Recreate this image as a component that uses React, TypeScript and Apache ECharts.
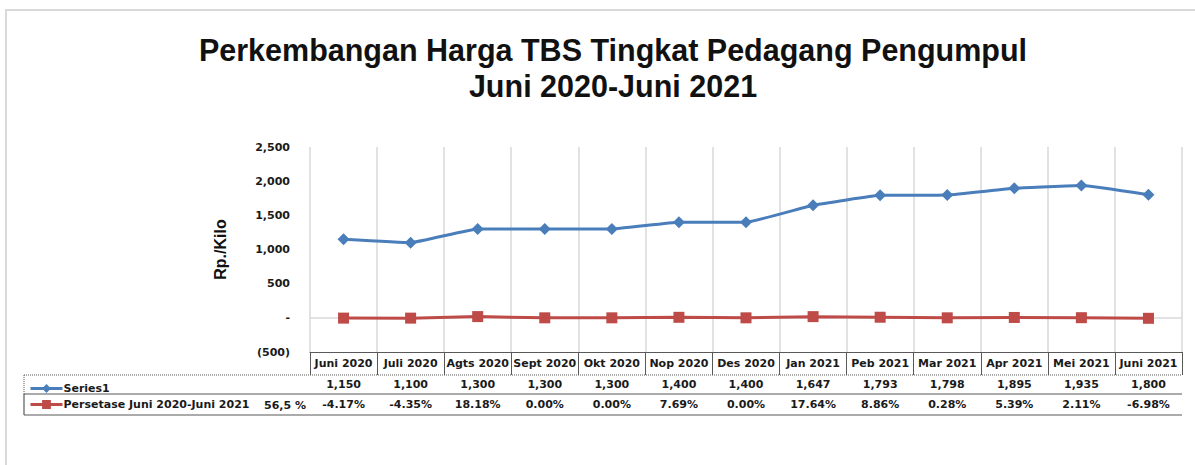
import React, { useEffect, useRef } from "react";
import * as echarts from "echarts";

const categories = [
  "Juni 2020", "Juli 2020", "Agts 2020", "Sept 2020", "Okt 2020", "Nop 2020", "Des 2020",
  "Jan 2021", "Peb 2021", "Mar 2021", "Apr 2021", "Mei 2021", "Juni 2021",
];
const series1 = [1150, 1100, 1300, 1300, 1300, 1400, 1400, 1647, 1793, 1798, 1895, 1935, 1800];
const persentase = [-4.17, -4.35, 18.18, 0.0, 0.0, 7.69, 0.0, 17.64, 8.86, 0.28, 5.39, 2.11, -6.98];
const series1Name = "Series1";
const series2Name = "Persetase Juni 2020-Juni 2021";
const totalPct = "56,5 %";
const titleLines = ["Perkembangan Harga TBS Tingkat Pedagang Pengumpul", "Juni 2020-Juni 2021"];
const yName = "Rp./Kilo";

const fmt = (v: number) => v.toLocaleString("en-US");
const tableFont = "DejaVu Sans";

export default function App() {
  const ref = useRef<HTMLDivElement>(null);
  useEffect(() => {
    document.body.style.margin = "0";
    const chart = echarts.init(ref.current!, undefined, { renderer: "svg" });
    const border = "#595959";
    const labelStyle = { fontFamily: tableFont, fontWeight: "bold", fontSize: 11, color: "#1a1a1a" };
    const titleStyle = { fontFamily: "Liberation Sans", fontWeight: "bold", fontSize: 30.5, lineHeight: 30, color: "#111" };
    chart.setOption({
      animation: false,
      backgroundColor: "#fff",
      title: titleLines.map((t, i) => ({
        text: t,
        left: 613,
        top: 35 + i * 36,
        textAlign: "center",
        padding: 0,
        textStyle: titleStyle,
      })),
      legend: {
        orient: "vertical",
        left: 24,
        top: 378,
        itemWidth: 32,
        itemHeight: 11,
        itemGap: 5,
        lineStyle: { width: 3 },
        textStyle: { ...labelStyle, padding: [0, 0, 0, -4] },
        data: [series1Name, series2Name],
      },
      grid: { left: 310, right: 13, top: 147, bottom: 113, containLabel: false },
      xAxis: [
        {
          type: "category",
          data: categories,
          position: "bottom",
          boundaryGap: true,
          axisLine: { onZero: false, lineStyle: { color: border, width: 1 } },
          axisTick: { show: true, length: 23, interval: 0, lineStyle: { color: border } },
          axisLabel: { ...labelStyle, margin: 6, interval: 0 },
          splitLine: { show: true, interval: 0, lineStyle: { color: "#d9d9d9", width: 1.5 } },
        },
        {
          type: "category",
          data: categories,
          position: "bottom",
          offset: 22,
          axisLine: { show: false },
          axisTick: { show: false },
          splitLine: { show: false },
          axisLabel: { ...labelStyle, margin: 5, interval: 0, formatter: (_v: string, i: number) => fmt(series1[i]) },
        },
        {
          type: "category",
          data: categories,
          position: "bottom",
          offset: 42,
          axisLine: { show: false },
          axisTick: { show: false },
          splitLine: { show: false },
          axisLabel: {
            ...labelStyle,
            margin: 5,
            interval: 0,
            formatter: (_v: string, i: number) => persentase[i].toFixed(2) + "%",
          },
        },
      ],
      yAxis: {
        type: "value",
        min: -500,
        max: 2500,
        interval: 500,
        name: yName,
        nameLocation: "middle",
        nameGap: 82,
        nameTextStyle: { fontFamily: "Liberation Sans", fontWeight: "bold", fontSize: 16, color: "#111" },
        axisLine: { show: false },
        axisTick: { show: false },
        splitLine: { show: false },
        axisLabel: {
          ...labelStyle,
          margin: 20,
          formatter: (v: number) => (v === 0 ? "-" : v < 0 ? `(${fmt(-v)})` : fmt(v)),
        },
      },
      series: [
        {
          name: series1Name,
          type: "line",
          data: series1,
          smooth: 0.1,
          symbol: "diamond",
          symbolSize: 12,
          itemStyle: { color: "#4a7ebb" },
          lineStyle: { color: "#4a7ebb", width: 3 },
        },
        {
          name: series2Name,
          type: "line",
          data: persentase,
          symbol: "rect",
          symbolSize: 11,
          itemStyle: { color: "#be4b48" },
          lineStyle: { color: "#be4b48", width: 3 },
          z: 3,
          markLine: {
            silent: true,
            symbol: "none",
            label: { show: false },
            lineStyle: { color: "#d9d9d9", width: 1.5, type: "solid" },
            data: [{ yAxis: 0 }],
            z: 1,
          },
        },
      ],
      graphic: [
        { type: "rect", shape: { x: 6, y: 10, width: 1300, height: 600 }, style: { fill: "none", stroke: "#d9d9d9", lineWidth: 2 }, silent: true },
        { type: "line", shape: { x1: 24, y1: 375, x2: 1182, y2: 375 }, style: { stroke: border, lineWidth: 1, lineDash: [1, 1] } },
        { type: "line", shape: { x1: 24, y1: 375, x2: 24, y2: 394 }, style: { stroke: border, lineWidth: 1, lineDash: [1, 1] } },
        { type: "line", shape: { x1: 24, y1: 394, x2: 1182, y2: 394 }, style: { stroke: border, lineWidth: 1.2 } },
        { type: "line", shape: { x1: 24, y1: 394, x2: 24, y2: 415 }, style: { stroke: border, lineWidth: 1.2 } },
        { type: "line", shape: { x1: 24, y1: 415, x2: 1182, y2: 415 }, style: { stroke: border, lineWidth: 1.2 } },
        {
          type: "text",
          x: 264,
          y: 405,
          style: { text: totalPct, ...{ fontFamily: tableFont, fontWeight: "bold", fontSize: 11 }, fill: "#1a1a1a", verticalAlign: "middle" },
        },
      ],
    });
    return () => chart.dispose();
  }, []);
  return <div ref={ref} style={{ width: 1195, height: 465 }} />;
}
